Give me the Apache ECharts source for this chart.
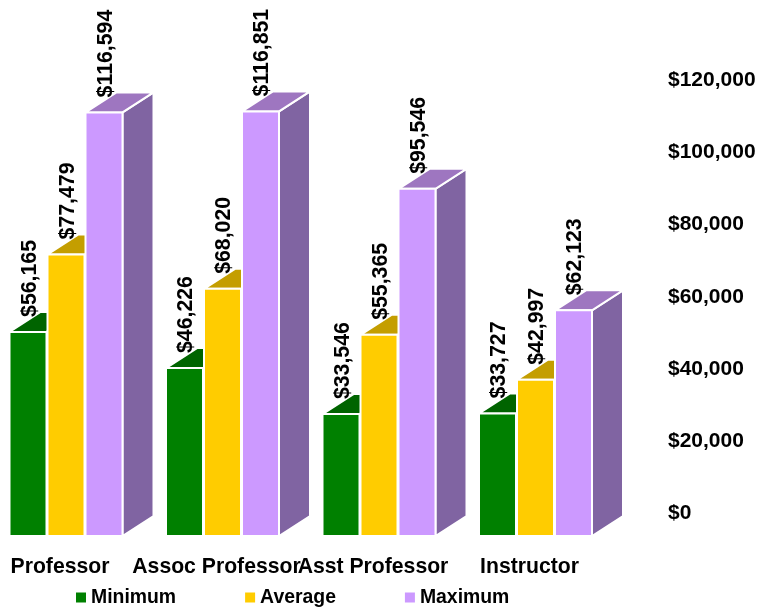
<!DOCTYPE html>
<html>
<head>
<meta charset="utf-8">
<style>html,body{margin:0;padding:0;background:#fff}#c{width:760px;height:610px}</style>
<script src="https://cdn.jsdelivr.net/npm/echarts@6/dist/echarts.min.js"></script>
</head>
<body>
<div id="c"></div>
<script>
const categories = ['Professor', 'Assoc Professor', 'Asst Professor', 'Instructor'];
const minimum = [56165, 46226, 33546, 33727];
const average = [77479, 68020, 55365, 42997];
const maximum = [116594, 116851, 95546, 62123];

const seriesNames = ['Minimum', 'Average', 'Maximum'];
const seriesValues = [minimum, average, maximum];
const frontColors = ['#008000', '#FFCC00', '#CC99FF'];
const topColors = ['#006400', '#C49E00', '#9E76C0'];
const sideColors = ['#006000', '#A88800', '#8064A2'];

const FONT = '"Liberation Sans", Arial, sans-serif';
const DEPTH_X = 31, DEPTH_Y = 20, PITCH = 38, FACE = 37;

function money(v) { return '$' + Number(v).toLocaleString('en-US'); }

function renderBar(s) {
  return function (params, api) {
    const top = api.coord([api.value(0), api.value(1)]);
    const base = api.coord([api.value(0), 0]);
    const x0 = top[0] + (s - 1) * PITCH - FACE / 2;
    const x1 = x0 + FACE;
    const y = top[1], b = base[1];
    const edge = { stroke: '#fff', lineWidth: 2, lineJoin: 'miter' };
    return {
      type: 'group',
      children: [
        { type: 'polygon', shape: { points: [[x1, y], [x1 + DEPTH_X, y - DEPTH_Y], [x1 + DEPTH_X, b - DEPTH_Y], [x1, b]] },
          style: Object.assign({ fill: sideColors[s] }, edge) },
        { type: 'polygon', shape: { points: [[x0, y], [x1, y], [x1 + DEPTH_X, y - DEPTH_Y], [x0 + DEPTH_X, y - DEPTH_Y]] },
          style: Object.assign({ fill: topColors[s] }, edge) },
        { type: 'rect', shape: { x: x0, y: y, width: FACE, height: b - y },
          style: Object.assign({ fill: frontColors[s] }, edge) },
        { type: 'text', x: (x0 + x1) / 2 + 2, y: y - 15, rotation: Math.PI / 2,
          style: { text: money(api.value(1)), font: 'bold 21.3px ' + FONT, fill: '#000', align: 'left', verticalAlign: 'middle' } }
      ]
    };
  };
}

const chart = echarts.init(document.getElementById('c'), null, { renderer: 'canvas' });
chart.setOption({
  animation: false,
  backgroundColor: '#fff',
  legend: {
    data: seriesNames,
    left: 76, top: 588, padding: 0,
    itemWidth: 10, itemHeight: 10, itemGap: 69,
    icon: 'rect',
    textStyle: { fontFamily: FONT, fontWeight: 'bold', fontSize: 19.4, color: '#000' }
  },
  grid: [
    { left: -12.25, width: 626, top: 100, height: 436, containLabel: false, outerBoundsMode: 'none' },
    { left: 600, width: 60, top: 80, height: 433.5, containLabel: false, outerBoundsMode: 'none' }
  ],
  xAxis: [
    { type: 'category', gridIndex: 0, data: categories,
      axisLine: { show: false }, axisTick: { show: false },
      axisLabel: { interval: 0, margin: 21, fontFamily: FONT, fontWeight: 'bold', fontSize: 21.2, color: '#000', padding: [0, 12, 0, 0], hideOverlap: false } },
    { type: 'category', gridIndex: 1, show: false, data: [''] }
  ],
  yAxis: [
    { type: 'value', gridIndex: 0, show: false, min: 0, max: 120000, interval: 20000 },
    { type: 'value', gridIndex: 1, position: 'right', min: 0, max: 120000, interval: 20000,
      axisLine: { show: false }, axisTick: { show: false }, splitLine: { show: false },
      axisLabel: { align: 'left', margin: 8, fontFamily: FONT, fontWeight: 'bold', fontSize: 21, color: '#000', formatter: money } }
  ],
  series: seriesNames.map((name, s) => ({
    name,
    type: 'custom',
    xAxisIndex: 0, yAxisIndex: 0,
    itemStyle: { color: frontColors[s] },
    encode: { x: 0, y: 1 },
    data: seriesValues[s].map((v, i) => [i, v]),
    renderItem: renderBar(s),
    z: 2 + s
  }))
});
</script>
</body>
</html>
